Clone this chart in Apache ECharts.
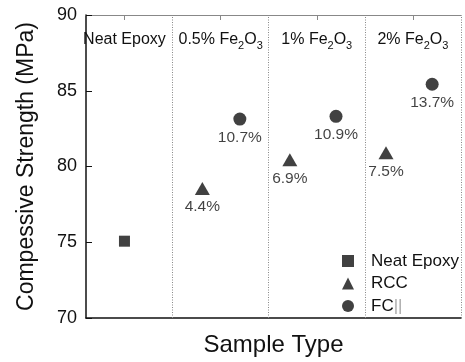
<!DOCTYPE html>
<html>
<head>
<meta charset="utf-8">
<script src="https://cdn.jsdelivr.net/npm/echarts@6/dist/echarts.min.js"></script>
<style>
  html, body { margin: 0; padding: 0; background: #fff; }
  #chart { width: 465px; height: 362px; }
</style>
</head>
<body>
<div id="chart"></div>
<script>
// section titles along the top, one per sample group
const sectionNames = ['Neat Epoxy', '0.5% Fe2O3', '1% Fe2O3', '2% Fe2O3'];
const sectionPos = [1, 2, 3, 4];
const dividers = [1.5, 2.5, 3.5, 4.5];

const neatX = [1];
const neatY = [75.07];

const rccX = [1.81, 2.72, 3.72];
const rccY = [78.55, 80.44, 80.9];
const rccPct = ['4.4%', '6.9%', '7.5%'];

const fcX = [2.2, 3.2, 4.2];
const fcY = [83.13, 83.31, 85.43];
const fcPct = ['10.7%', '10.9%', '13.7%'];

const yTicks = [70, 75, 80, 85, 90];

const FONT = 'Liberation Sans, Arial, sans-serif';
const INK = '#111';

const pairs = (xs, ys) => xs.map((x, i) => [x, ys[i]]);

const chart = echarts.init(document.getElementById('chart'), null, { renderer: 'canvas' });

const pctLabel = (arr) => ({
  show: true,
  position: 'bottom',
  distance: 4,
  color: INK,
  fontFamily: FONT,
  fontSize: 15.5,
  formatter: (p) => arr[p.dataIndex]
});

chart.setOption({
  backgroundColor: '#fff',
  animation: false,
  textStyle: { fontFamily: FONT },
  grid: { left: 86, right: 4, top: 15, bottom: 43 },
  legend: {
    orient: 'vertical',
    left: 337,
    top: 247,
    itemWidth: 12,
    itemHeight: 12,
    itemGap: 4.5,
    data: ['Neat Epoxy', 'RCC', 'FC||'],
    formatter: (name) => name === 'FC||' ? '{t|FC}{b|||}' : '{t|' + name + '}',
    textStyle: {
      color: INK,
      fontFamily: FONT,
      fontSize: 17,
      lineHeight: 18,
      padding: [0, 0, 0, 12],
      rich: {
        t: { fontSize: 17, color: INK, fontFamily: FONT },
        b: { fontSize: 17, color: '#aaa', fontFamily: FONT }
      }
    }
  },
  xAxis: [
    {
      type: 'value',
      position: 'bottom',
      min: 0.6,
      max: 4.5,
      name: 'Sample Type',
      nameLocation: 'middle',
      nameGap: 15,
      nameTextStyle: { fontSize: 24, color: INK, fontFamily: FONT },
      axisLine: { show: true, lineStyle: { color: '#111', width: 1.5 } },
      axisTick: { show: false },
      axisLabel: { show: false },
      splitLine: { show: false }
    },
    {
      type: 'value',
      position: 'top',
      min: 0.6,
      max: 4.5,
      axisLine: { show: true, lineStyle: { color: '#888', width: 1 } },
      axisTick: { show: true, inside: true, length: 5, lineStyle: { color: '#888' }, customValues: sectionPos },
      axisLabel: {
        show: true,
        inside: true,
        margin: 14,
        customValues: sectionPos,
        formatter: (v) => {
          const s = sectionNames[sectionPos.indexOf(v)] || '';
          return s.replace(/Fe2O3/, 'Fe{s|2}O{s|3}').replace(/^([^{]+)/, '{m|$1}').replace(/\}O\{/, '}{m|O}{');
        },
        rich: {
          m: { fontSize: 16, color: INK, fontFamily: FONT, lineHeight: 22, verticalAlign: 'middle' },
          s: { fontSize: 11, color: INK, fontFamily: FONT, lineHeight: 22, verticalAlign: 'bottom' }
        }
      },
      splitLine: { show: false }
    }
  ],
  yAxis: {
    type: 'value',
    min: 70,
    max: 90,
    interval: 5,
    name: 'Compessive Strength (MPa)',
    nameLocation: 'middle',
    nameGap: 48,
    nameTextStyle: { fontSize: 23, color: INK, fontFamily: FONT },
    axisLine: { show: true, lineStyle: { color: '#111', width: 1.5 } },
    axisTick: { show: true, inside: true, length: 6, lineStyle: { color: '#111' } },
    axisLabel: {
      margin: 9,
      fontSize: 18,
      color: INK,
      fontFamily: FONT,
      formatter: (v) => yTicks.indexOf(v) >= 0 ? String(v) : ''
    },
    splitLine: { show: false }
  },
  series: [
    {
      name: 'Neat Epoxy',
      type: 'scatter',
      symbol: 'rect',
      symbolSize: 11,
      itemStyle: { color: '#111' },
      data: pairs(neatX, neatY),
      markLine: {
        silent: true,
        symbol: 'none',
        label: { show: false },
        lineStyle: { color: '#888', type: [1, 1.5], width: 1 },
        data: dividers.map((d) => ({ xAxis: d }))
      }
    },
    {
      name: 'RCC',
      type: 'scatter',
      symbol: 'triangle',
      symbolSize: [15, 13],
      itemStyle: { color: '#111' },
      label: pctLabel(rccPct),
      data: pairs(rccX, rccY)
    },
    {
      name: 'FC||',
      type: 'scatter',
      symbol: 'circle',
      symbolSize: 13,
      itemStyle: { color: '#111' },
      label: pctLabel(fcPct),
      data: pairs(fcX, fcY)
    }
  ]
});
</script>
</body>
</html>
